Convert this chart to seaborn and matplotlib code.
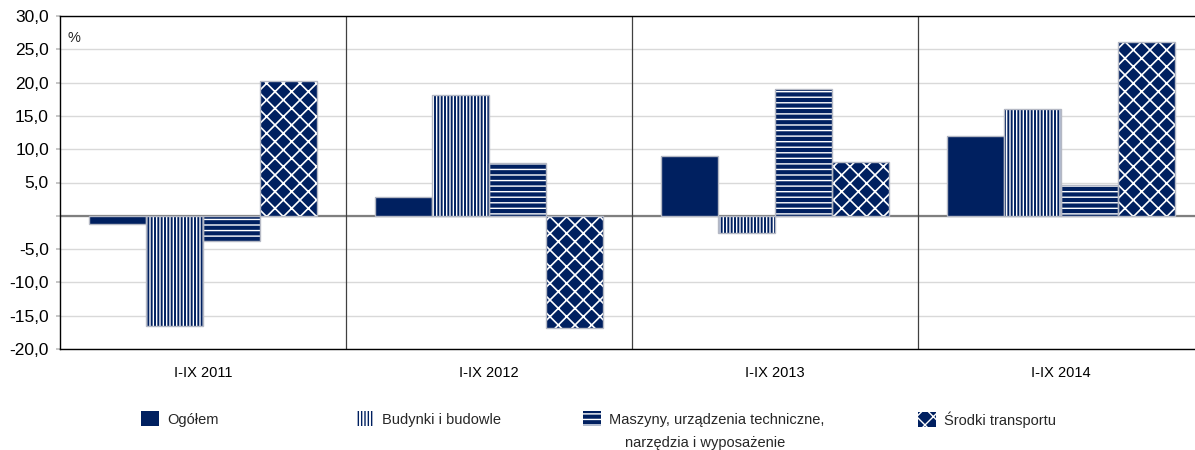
import matplotlib
matplotlib.use("Agg")
import matplotlib.pyplot as plt
from matplotlib.patches import Patch, Rectangle
from matplotlib.ticker import FuncFormatter
import seaborn as sns
import pandas as pd

# dane
periods = ["I-IX 2011", "I-IX 2012", "I-IX 2013", "I-IX 2014"]
categories = ["Ogółem", "Budynki i budowle",
              "Maszyny, urządzenia techniczne,", "Środki transportu"]
ogolem = [-1.2, 2.8, 9.0, 12.0]
budynki = [-16.6, 18.2, -2.6, 16.0]
maszyny = [-3.8, 7.9, 19.1, 4.6]
srodki = [20.2, -16.9, 8.1, 26.1]
y_ticks = [-20, -15, -10, -5, 0, 5, 10, 15, 20, 25, 30]

df = pd.DataFrame({
    "okres": periods * 4,
    "kategoria": [c for c in categories for _ in periods],
    "wartosc": ogolem + budynki + maszyny + srodki,
})

sns.set_theme(style="white")
plt.rcParams["font.family"] = ["Liberation Sans", "DejaVu Sans"]
plt.rcParams["hatch.linewidth"] = 1.0

navy = "#002060"
# (kolor wypełnienia, kolor kreskowania, wzór, grubość kreskowania)
styles = [
    (navy, navy, None, 1.0),
    ("white", navy, "|||||", 1.4),
    (navy, "white", "---", 1.0),
    (navy, "white", "xx", 1.2),
]


def styl(p, fc, hc, hatch, hlw):
    p.set_facecolor(fc)
    p.set_edgecolor(hc)
    p.set_linewidth(0)
    if hatch:
        p.set_hatch(hatch)
        if hasattr(p, "set_hatch_linewidth"):
            p.set_hatch_linewidth(hlw)


fig = plt.figure(figsize=(11.95, 4.5), dpi=100)
ax = fig.add_axes([60 / 1195, 101 / 450, 1144 / 1195, 333 / 450])

sns.barplot(data=df, x="okres", y="wartosc", hue="kategoria",
            order=periods, hue_order=categories, width=0.8,
            legend=False, ax=ax)

for cont, st in zip(ax.containers, styles):
    for p in cont:
        styl(p, *st)
        ax.add_patch(Rectangle(p.get_xy(), p.get_width(), p.get_height(),
                               fill=False, edgecolor="#b4b8c4", lw=1,
                               zorder=p.get_zorder() + 0.1))

ax.set_xlim(-0.5, 3.5)
ax.set_ylim(-20, 30)
ax.set_yticks(y_ticks)
ax.yaxis.set_major_formatter(FuncFormatter(
    lambda v, _: "" if v == 0 else f"{v:.1f}".replace(".", ",")))
ax.set_xlabel("")
ax.set_ylabel("")

ax.yaxis.grid(True, color="#d9d9d9", lw=1)
ax.set_axisbelow(True)
ax.axhline(0, color="#7f7f7f", lw=1.6, zorder=0.8)
for x in [0.5, 1.5, 2.5]:
    ax.axvline(x, color="#404040", lw=0.9, zorder=0.8)

for s in ["left", "top", "bottom"]:
    ax.spines[s].set_color("black")
    ax.spines[s].set_linewidth(1)
ax.spines["right"].set_visible(False)

ax.tick_params(axis="y", length=3, color="#bfbfbf", labelsize=12.5,
               pad=5, left=True, labelcolor="black")
ax.tick_params(axis="x", length=0, labelsize=10.5, pad=12,
               labelcolor="black")

ax.text(8 / 1144, 0.955, "%", transform=ax.transAxes, fontsize=10.5,
        va="top", ha="left")

# legenda
legend_x = [141, 356, 583, 918]
for st, label, lx in zip(styles, categories, legend_x):
    h = Patch()
    styl(h, *st)
    fig.legend(handles=[h], labels=[label], loc="upper left",
               bbox_to_anchor=(lx / 1195, 1 - 411 / 450),
               frameon=False, borderpad=0, borderaxespad=0,
               handlelength=1.2, handleheight=1.25,
               handletextpad=0.6, fontsize=10.5)
fig.text(625 / 1195, 1 - 443 / 450, "narzędzia i wyposażenie",
         fontsize=10.5, va="center", ha="left")

fig.savefig("out.png", dpi=100)
